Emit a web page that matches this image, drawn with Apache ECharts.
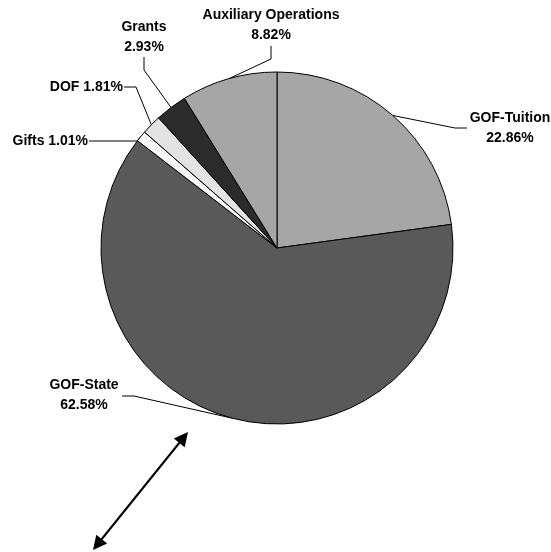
<!DOCTYPE html>
<html>
<head>
<meta charset="utf-8">
<script src="https://cdn.jsdelivr.net/npm/echarts@6/dist/echarts.min.js"></script>
<style>html,body{margin:0;padding:0;background:#fff}#c{width:551px;height:552px}</style>
</head>
<body>
<div id="c"></div>
<script>
const categories = ['GOF-Tuition', 'GOF-State', 'Gifts', 'DOF', 'Grants', 'Auxiliary Operations'];
const shares = [22.86, 62.58, 1.01, 1.81, 2.93, 8.82];
const sliceColors = ['#a6a6a6', '#595959', '#f7f7f7', '#e3e3e3', '#2b2b2b', '#a6a6a6'];
const singleLine = [false, false, true, true, false, false];

const CX = 277, CY = 248, R = 176;
// label anchor, alignment and leader-line bend points (layout only)
const labelLayouts = [
  {x: 510, y: 128, align: 'center', pts: [[455, 128], [467, 128]]},
  {x: 84, y: 395, align: 'center', pts: [[134, 396], [122, 396]]},
  {x: 88, y: 141, align: 'right', pts: [[137, 141], [89, 141]]},
  {x: 123, y: 87, align: 'right', pts: [[136, 87], [124, 87]]},
  {x: 144, y: 37, align: 'center', pts: [[144, 70], [144, 57]]},
  {x: 271, y: 25, align: 'center', pts: [[271, 59], [271, 46]]}
];

const total = shares.reduce((a, b) => a + b, 0);
const midAngles = [];
let acc = 0;
shares.forEach(v => { midAngles.push((acc + v / 2) / total * 2 * Math.PI); acc += v; });

const chart = echarts.init(document.getElementById('c'), null, {renderer: 'canvas'});
chart.setOption({
  animation: false,
  backgroundColor: '#fff',
  series: [{
    type: 'pie',
    center: [CX, CY],
    radius: R,
    startAngle: 90,
    clockwise: true,
    avoidLabelOverlap: false,
    itemStyle: {borderColor: '#000', borderWidth: 1},
    data: categories.map((n, i) => ({name: n, value: shares[i], itemStyle: {color: sliceColors[i]}})),
    label: {
      show: true,
      position: 'outside',
      fontFamily: 'Liberation Sans, Arial, sans-serif',
      fontWeight: 'bold',
      fontSize: 14,
      lineHeight: 19.5,
      color: '#000',
      formatter: p => singleLine[p.dataIndex]
        ? p.name + ' ' + p.value.toFixed(2) + '%'
        : p.name + '\n' + p.value.toFixed(2) + '%'
    },
    labelLine: {show: true, smooth: false, lineStyle: {color: '#000', width: 1}},
    labelLayout: function (params) {
      const i = params.dataIndex;
      const L = labelLayouts[i];
      const a = midAngles[i];
      const start = [CX + R * Math.sin(a), CY - R * Math.cos(a)];
      return {
        x: L.x, y: L.y, align: L.align, verticalAlign: 'middle',
        labelLinePoints: [start, L.pts[0], L.pts[1]]
      };
    }
  }],
  graphic: [
    {type: 'line', shape: {x1: 180, y1: 442, x2: 101, y2: 540}, style: {stroke: '#000', lineWidth: 2}},
    {type: 'polygon', shape: {points: [[188, 432], [184.7, 447.3], [173.8, 438.5]]}, style: {fill: '#000'}},
    {type: 'polygon', shape: {points: [[93, 550], [107.2, 543.5], [96.3, 534.7]]}, style: {fill: '#000'}}
  ]
});
</script>
</body>
</html>
